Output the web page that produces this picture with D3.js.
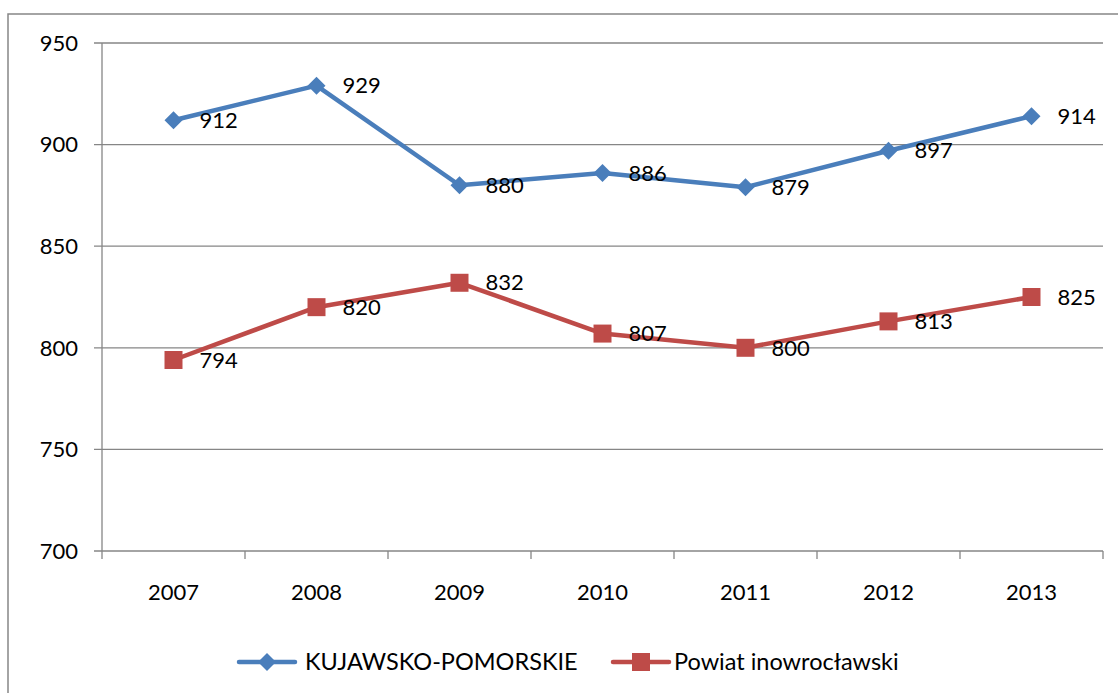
<!DOCTYPE html>
<html>
<head>
<meta charset="utf-8">
<script src="https://cdn.jsdelivr.net/npm/d3@7"></script>
<style>
  body { margin: 0; background: #fff; }
  text { font-family: Lato, "Open Sans", sans-serif; fill: #000; }
</style>
</head>
<body>
<svg width="1118" height="693"></svg>
<script>
// data
const years = ["2007", "2008", "2009", "2010", "2011", "2012", "2013"];
const kujawsko = [912, 929, 880, 886, 879, 897, 914];
const powiat = [794, 820, 832, 807, 800, 813, 825];
const yTicks = [700, 750, 800, 850, 900, 950];
const seriesNames = ["KUJAWSKO-POMORSKIE", "Powiat inowrocławski"];

const blue = "#4a7ebb", red = "#be4b48", grid = "#868686";

const svg = d3.select("svg");

// outer chart frame
svg.append("rect")
    .attr("x", 8).attr("y", 14)
    .attr("width", 1200).attr("height", 800)
    .attr("fill", "none")
    .attr("stroke", grid)
    .attr("stroke-width", 1.5);

const plotLeft = 102, plotRight = 1103, plotTop = 43, plotBottom = 551;

const x = d3.scaleBand().domain(years).range([plotLeft, plotRight]);
const y = d3.scaleLinear().domain([700, 950]).range([plotBottom, plotTop]);

// gridlines
svg.append("g").selectAll("line")
    .data(yTicks)
    .enter().append("line")
    .attr("x1", plotLeft - 8).attr("x2", plotRight)
    .attr("y1", d => y(d)).attr("y2", d => y(d))
    .attr("stroke", grid).attr("stroke-width", 1.3);

// y axis line
svg.append("line")
    .attr("x1", plotLeft).attr("x2", plotLeft)
    .attr("y1", plotTop).attr("y2", plotBottom + 8)
    .attr("stroke", grid).attr("stroke-width", 1.3);

// x ticks at band edges
const edges = years.map(d => x(d)).concat([plotRight]).slice(1);
svg.append("g").selectAll("line")
    .data(edges)
    .enter().append("line")
    .attr("x1", d => d).attr("x2", d => d)
    .attr("y1", plotBottom).attr("y2", plotBottom + 8)
    .attr("stroke", grid).attr("stroke-width", 1.3);

// y labels
svg.append("g").selectAll("text")
    .data(yTicks)
    .enter().append("text")
    .attr("x", 78)
    .attr("y", d => y(d))
    .attr("dy", "0.35em")
    .attr("text-anchor", "end")
    .style("font-size", "22px")
    .text(d => d);

// x labels
svg.append("g").selectAll("text")
    .data(years)
    .enter().append("text")
    .attr("x", d => x(d) + x.bandwidth() / 2)
    .attr("y", 600)
    .attr("text-anchor", "middle")
    .style("font-size", "22px")
    .text(d => d);

const cx = d => x(d) + x.bandwidth() / 2;
const line = d3.line().x((d, i) => cx(years[i])).y(d => y(d));

function drawSeries(vals, color, marker) {
    const g = svg.append("g");
    g.append("path")
        .attr("d", line(vals))
        .attr("fill", "none")
        .attr("stroke", color)
        .attr("stroke-width", 4.5)
        .attr("stroke-linejoin", "round");
    g.selectAll("path.m")
        .data(vals)
        .enter().append("path")
        .attr("class", "m")
        .attr("d", marker)
        .attr("transform", (d, i) => `translate(${cx(years[i])},${y(d)})`)
        .attr("fill", color);
    g.selectAll("text")
        .data(vals)
        .enter().append("text")
        .attr("x", (d, i) => cx(years[i]) + 26)
        .attr("y", d => y(d))
        .attr("dy", "0.35em")
        .style("font-size", "22px")
        .text(d => d);
}

const diamond = "M0,-9L9,0L0,9L-9,0Z";
const square = "M-9,-9H9V9H-9Z";

drawSeries(kujawsko, blue, diamond);
drawSeries(powiat, red, square);

// legend
const legend = [
    { name: seriesNames[0], color: blue, marker: diamond, x: 239 },
    { name: seriesNames[1], color: red, marker: square, x: 613 }
];
const lg = svg.append("g").selectAll("g")
    .data(legend)
    .enter().append("g")
    .attr("transform", d => `translate(${d.x},662)`);
lg.append("line")
    .attr("x1", 0).attr("x2", 56)
    .attr("stroke", d => d.color)
    .attr("stroke-width", 4.5)
    .attr("stroke-linecap", "round");
lg.append("path")
    .attr("d", d => d.marker)
    .attr("transform", "translate(28,0)")
    .attr("fill", d => d.color);
lg.append("text")
    .attr("x", (d, i) => i === 0 ? 66 : 61)
    .attr("dy", "0.35em")
    .style("font-size", "23.5px")
    .text(d => d.name);
</script>
</body>
</html>
